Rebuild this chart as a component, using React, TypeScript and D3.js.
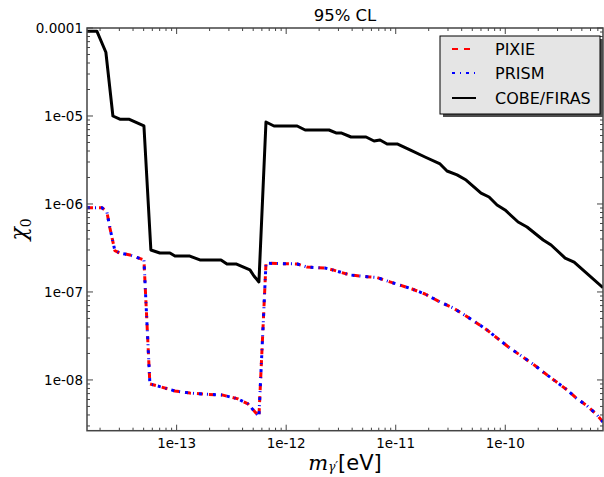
import React from "react"
import * as d3 from "d3"

// COBE/FIRAS bound
const massCobe = [
  1.52e-14, 1.87e-14, 2.26e-14, 2.62e-14, 3.03e-14, 3.66e-14, 5.03e-14, 5.82e-14,
  7.03e-14, 8.69e-14, 9.65e-14, 1.32e-13, 1.63e-13, 2.54e-13, 2.88e-13, 3.48e-13,
  4.67e-13, 5.08e-13, 5.64e-13, 6.54e-13, 7.74e-13, 1.26e-12, 1.49e-12, 2.46e-12,
  2.85e-12, 3.17e-12, 3.91e-12, 5.36e-12, 6.34e-12, 7.19e-12, 8.34e-12, 1.03e-11,
  1.35e-11, 1.85e-11, 2.54e-11, 2.94e-11, 3.63e-11, 4.39e-11, 6.01e-11, 7.11e-11,
  8.41e-11, 9.95e-11, 1.31e-10, 1.58e-10, 2.22e-10, 2.62e-10, 3.52e-10, 4.25e-10,
  7.8e-10,
]
const chiCobe = [
  9.2e-5, 9.2e-5, 5.3e-5, 1.0e-5, 9.2e-6, 9.2e-6, 7.7e-6, 3.0e-7,
  2.77e-7, 2.77e-7, 2.56e-7, 2.56e-7, 2.31e-7, 2.31e-7, 2.08e-7, 2.08e-7,
  1.78e-7, 1.52e-7, 1.3e-7, 8.55e-6, 7.7e-6, 7.7e-6, 6.93e-6, 6.93e-6,
  6.41e-6, 6.41e-6, 5.77e-6, 5.77e-6, 5.2e-6, 5.33e-6, 4.81e-6, 4.81e-6,
  4.11e-6, 3.42e-6, 2.85e-6, 2.37e-6, 2.14e-6, 1.87e-6, 1.33e-6, 1.2e-6,
  9.75e-7, 8.55e-7, 6.24e-7, 5.48e-7, 3.9e-7, 3.42e-7, 2.43e-7, 2.19e-7,
  1.12e-7,
]

// PIXIE / PRISM forecasts (curves coincide)
const massForecast = [
  1.52e-14, 2.08e-14, 2.31e-14, 2.46e-14, 2.73e-14, 3.03e-14, 3.75e-14, 5.03e-14,
  5.7e-14, 7.03e-14, 9.65e-14, 1.32e-13, 1.81e-13, 2.59e-13, 3.63e-13, 4.48e-13,
  5.3e-13, 5.64e-13, 6.54e-13, 1.26e-12, 1.55e-12, 2.26e-12, 2.67e-12, 3.82e-12,
  5.46e-12, 6.74e-12, 8.87e-12, 1.09e-11, 1.41e-11, 1.85e-11, 2.54e-11, 3.34e-11,
  4.39e-11, 5.65e-11, 6.82e-11, 8.41e-11, 1.04e-10, 1.36e-10, 1.79e-10, 2.22e-10,
  2.85e-10, 3.67e-10, 4.43e-10, 5.59e-10, 6.89e-10, 7.8e-10,
]
const chiPixie = [
  9.08e-7, 9.08e-7, 8.11e-7, 5.34e-7, 2.95e-7, 2.77e-7, 2.63e-7, 2.31e-7,
  9.0e-9, 8.4e-9, 7.5e-9, 7.1e-9, 6.88e-9, 6.76e-9, 6.09e-9, 5.34e-9,
  4.21e-9, 3.83e-9, 2.12e-7, 2.08e-7, 1.92e-7, 1.87e-7, 1.78e-7, 1.56e-7,
  1.49e-7, 1.46e-7, 1.3e-7, 1.2e-7, 1.08e-7, 9.48e-8, 7.69e-8, 6.58e-8,
  5.33e-8, 4.33e-8, 3.7e-8, 3.0e-8, 2.43e-8, 1.92e-8, 1.52e-8, 1.23e-8,
  9.75e-9, 7.69e-9, 6.24e-9, 5.07e-9, 4.0e-9, 3.33e-9,
]
const chiPrism = [
  9.08e-7, 9.08e-7, 8.11e-7, 5.34e-7, 2.95e-7, 2.77e-7, 2.63e-7, 2.31e-7,
  9.0e-9, 8.4e-9, 7.5e-9, 7.1e-9, 6.88e-9, 6.76e-9, 6.09e-9, 5.34e-9,
  4.21e-9, 3.83e-9, 2.12e-7, 2.08e-7, 1.92e-7, 1.87e-7, 1.78e-7, 1.56e-7,
  1.49e-7, 1.46e-7, 1.3e-7, 1.2e-7, 1.08e-7, 9.48e-8, 7.69e-8, 6.58e-8,
  5.33e-8, 4.33e-8, 3.7e-8, 3.0e-8, 2.43e-8, 1.92e-8, 1.52e-8, 1.23e-8,
  9.75e-9, 7.69e-9, 6.24e-9, 5.07e-9, 4.0e-9, 3.33e-9,
]

const xTicks = [1e-13, 1e-12, 1e-11, 1e-10]
const xTickLabels = ["1e-13", "1e-12", "1e-11", "1e-10"]
const yTicks = [1e-4, 1e-5, 1e-6, 1e-7, 1e-8]
const yTickLabels = ["0.0001", "1e-05", "1e-06", "1e-07", "1e-08"]
const legendLabels = ["PIXIE", "PRISM", "COBE/FIRAS"]

const W = 604
const H = 477
const left = 87
const right = 603
const top = 28
const bottom = 430.7

const minorTicks = (lo: number, hi: number) => {
  const out: number[] = []
  for (let e = Math.floor(Math.log10(lo)); e <= Math.ceil(Math.log10(hi)); e++) {
    for (let k = 2; k <= 9; k++) {
      const v = k * Math.pow(10, e)
      if (v > lo && v < hi) out.push(v)
    }
  }
  return out
}

export default function App() {
  const x = d3.scaleLog().domain([1.52e-14, 7.8e-10]).range([left, right])
  const y = d3.scaleLog().domain([2.65e-9, 1e-4]).range([bottom, top])

  const line = d3
    .line<[number, number]>()
    .x((d) => x(d[0]))
    .y((d) => y(d[1]))

  const cobe = line(massCobe.map((m, i) => [m, chiCobe[i]]))
  const pixie = line(massForecast.map((m, i) => [m, chiPixie[i]]))
  const prism = line(massForecast.map((m, i) => [m, chiPrism[i]]))

  const xMinor = minorTicks(1.52e-14, 7.8e-10)
  const yMinor = minorTicks(2.65e-9, 1e-4)
  const axisColor = "#444"
  const font = "'DejaVu Sans', sans-serif"

  const legendX = 440
  const legendY = 36
  const legendRows = [49, 73, 98]
  const legendStyles = [
    { stroke: "#ff0000", dash: "6,6" },
    { stroke: "#0000ff", dash: "3,5,1,5" },
    { stroke: "#000", dash: "none" },
  ]

  return (
    <svg
      width={W}
      height={H}
      style={{ position: "absolute", left: 0, top: 0, background: "#fff" }}
    >
      <defs>
        <clipPath id="plot">
          <rect x={left} y={top} width={right - left} height={bottom - top} />
        </clipPath>
      </defs>

      <text x={(left + right) / 2} y={21} textAnchor="middle" fontFamily={font} fontSize={16.5}>
        95% CL
      </text>

      <g clipPath="url(#plot)" fill="none" strokeLinejoin="round">
        <path d={cobe ?? ""} stroke="#000" strokeWidth={3} />
        <path d={pixie ?? ""} stroke="#ff0000" strokeWidth={3} strokeDasharray="6,6" />
        <path d={prism ?? ""} stroke="#0000ff" strokeWidth={3} strokeDasharray="3,5,1,5" />
      </g>

      {/* axes frame */}
      <rect
        x={left}
        y={top}
        width={right - left}
        height={bottom - top}
        fill="none"
        stroke={axisColor}
        strokeWidth={1.5}
      />

      {/* ticks, mirrored on all four sides */}
      <g stroke={axisColor} strokeWidth={1}>
        {xTicks.map((t) => (
          <g key={"xt" + t}>
            <line x1={x(t)} x2={x(t)} y1={bottom} y2={bottom - 6} />
            <line x1={x(t)} x2={x(t)} y1={top} y2={top + 6} />
          </g>
        ))}
        {xMinor.map((t) => (
          <g key={"xm" + t}>
            <line x1={x(t)} x2={x(t)} y1={bottom} y2={bottom - 3} />
            <line x1={x(t)} x2={x(t)} y1={top} y2={top + 3} />
          </g>
        ))}
        {yTicks.map((t) => (
          <g key={"yt" + t}>
            <line x1={left} x2={left + 6} y1={y(t)} y2={y(t)} />
            <line x1={right} x2={right - 6} y1={y(t)} y2={y(t)} />
          </g>
        ))}
        {yMinor.map((t) => (
          <g key={"ym" + t}>
            <line x1={left} x2={left + 3} y1={y(t)} y2={y(t)} />
            <line x1={right} x2={right - 3} y1={y(t)} y2={y(t)} />
          </g>
        ))}
      </g>

      {xTicks.map((t, i) => (
        <text
          key={"xl" + t}
          x={x(t)}
          y={bottom + 17}
          textAnchor="middle"
          fontFamily={font}
          fontSize={13.5}
        >
          {xTickLabels[i]}
        </text>
      ))}
      {yTicks.map((t, i) => (
        <text
          key={"yl" + t}
          x={left - 4}
          y={y(t)}
          dy="0.35em"
          textAnchor="end"
          fontFamily={font}
          fontSize={13.5}
        >
          {yTickLabels[i]}
        </text>
      ))}

      {/* axis labels */}
      <text x={345} y={470} textAnchor="middle" fontSize={21}>
        <tspan fontFamily="'DejaVu Serif', serif" fontStyle="italic">m</tspan>
        <tspan fontFamily="'DejaVu Serif', serif" fontStyle="italic" fontSize={12} dy={1}>
          γ′
        </tspan>
        <tspan fontFamily={font} dy={-1}>[eV]</tspan>
      </text>
      <text
        transform={`translate(26,${(top + bottom) / 2}) rotate(-90)`}
        textAnchor="middle"
        fontSize={22}
        fontFamily="'DejaVu Serif', serif"
      >
        <tspan fontStyle="italic">χ</tspan>
        <tspan fontSize={14} dy={5}>0</tspan>
      </text>

      {/* legend */}
      <rect x={legendX + 3} y={legendY + 3} width={160} height={78} fill="#4d4d4d" />
      <rect
        x={legendX}
        y={legendY}
        width={160}
        height={78}
        fill="#e5e5e5"
        stroke="#000"
        strokeWidth={1}
      />
      {legendLabels.map((label, i) => (
        <g key={label}>
          <line
            x1={452}
            x2={476}
            y1={legendRows[i]}
            y2={legendRows[i]}
            stroke={legendStyles[i].stroke}
            strokeWidth={2}
            strokeDasharray={legendStyles[i].dash}
          />
          <text x={495} y={legendRows[i]} dy="0.36em" fontFamily={font} fontSize={16}>
            {label}
          </text>
        </g>
      ))}
    </svg>
  )
}
